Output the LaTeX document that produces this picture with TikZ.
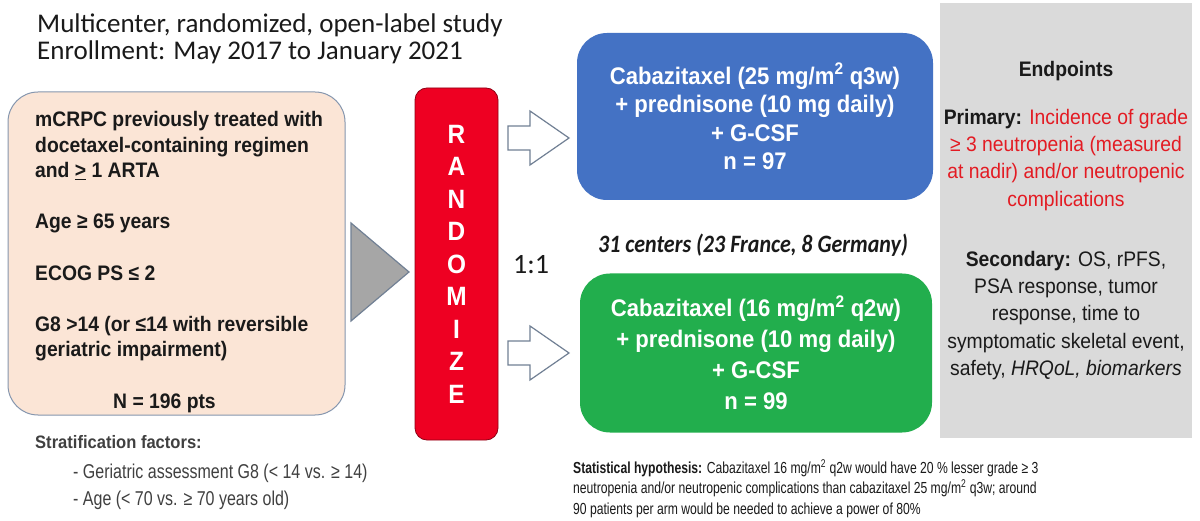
\documentclass[tikz,border=0pt]{standalone}
\usepackage{fontspec}
\setmainfont{Liberation Sans}
\newfontfamily\arialS[FakeStretch=0.92]{Liberation Sans}
\newfontfamily\arialN[FakeStretch=0.8]{Liberation Sans}
\newfontfamily\arialNN[FakeStretch=0.76]{Liberation Sans}
\newfontfamily\calib{Carlito}
\newfontfamily\calibN[FakeStretch=0.88]{Carlito}
\usetikzlibrary{positioning}

\definecolor{pesca}{HTML}{FBE5D6}
\definecolor{bordo}{HTML}{8596AE}
\definecolor{rosso}{HTML}{EE0022}
\definecolor{blu}{HTML}{4472C4}
\definecolor{verde}{HTML}{22AE4D}
\definecolor{grigio}{HTML}{DADADA}
\definecolor{testorosso}{HTML}{E31B23}
\definecolor{nero}{HTML}{1A1A1A}
\definecolor{grigioscuro}{HTML}{404040}

\begin{document}
\begin{tikzpicture}[x=1pt, y=-1pt,
			criteri/.style={rounded corners=30pt, fill=pesca, draw=bordo,
				line width=1pt, minimum width=337pt, minimum height=323pt},
			braccio/.style={rounded corners=30pt, text=white, align=center,
				inner sep=0pt},
			random/.style={rounded corners=12pt, fill=rosso, draw=rosso!60!black,
				line width=0.8pt, minimum width=83pt, minimum height=352pt,
				text=white, align=center, inner sep=0pt,
				font=\arialS\bfseries\fontsize{26.5}{32.5}\selectfont},
			freccia/.style={fill=white, draw=bordo!85!black, line width=1.2pt,
				line join=miter},
			triangolo/.style={fill=black!35, draw=bordo!85!black, line width=1.2pt},
			pannello/.style={fill=grigio, minimum width=252pt, minimum height=435pt,
				align=center, inner sep=0pt, text=nero,
				font=\arialS\fontsize{21}{27.3}\selectfont},
			testo/.style={inner sep=0pt, text=nero}]

			\def\W{1200}
			\def\H{521}

			%% --- sfondo e cornice ---
			\fill[white] (0,0) rectangle (\W,\H);
			\useasboundingbox (0,0) rectangle (\W,\H);

			%% --- titolo ---
			\node[testo, anchor=north west, align=left,
				font=\calib\fontsize{27}{27}\selectfont] (titolo) at (37,14)
				{Multicenter, randomized, open-label study\\
				 Enrollment: May 2017 to January 2021};

			%% --- criteri di inclusione ---
			\node[criteri] (incl) at (176.5,253.5) {};
			\node[testo, anchor=north west, align=left,
				font=\arialS\bfseries\fontsize{21}{25.6}\selectfont] (incltesto) at (35,111)
				{mCRPC previously treated with\\
				 docetaxel-containing regimen\\
				 and \underline{>} 1 ARTA\\[25.6pt]
				 Age ≥ 65 years\\[25.6pt]
				 ECOG PS ≤ 2\\[25.6pt]
				 G8 >14 (or ≤14 with reversible\\
				 geriatric impairment)\\[25.6pt]
				 \hspace*{78pt}N = 196 pts};

			%% --- randomizzazione ---
			\node[random] (rand) at (456.5,264) {R\\A\\N\\D\\O\\M\\I\\Z\\E};
			\draw[triangolo] (351,223) -- (351,321) -- (409,272) -- cycle;
			\node[testo, font=\calib\fontsize{28}{30}\selectfont] (rapporto) at (531,265) {1:1};

			%% --- bracci ---
			\node[braccio, fill=blu, minimum width=356pt, minimum height=167pt,
				font=\arialS\bfseries\fontsize{24}{28.5}\selectfont] (armA) at (755,116.5)
				{Cabazitaxel (25 mg/m\textsuperscript{2} q3w)\\
				 + prednisone (10 mg daily)\\
				 + G-CSF\\
				 n = 97};
			\node[braccio, fill=verde, minimum width=352pt, minimum height=159pt,
				font=\arialS\bfseries\fontsize{24}{31}\selectfont] (armB) at (756,353)
				{Cabazitaxel (16 mg/m\textsuperscript{2} q2w)\\
				 + prednisone (10 mg daily)\\
				 + G-CSF\\
				 n = 99};
			\node[testo, font=\calibN\bfseries\itshape\fontsize{25}{27}\selectfont] (centri)
				at (753,245) {31 centers (23 France, 8 Germany)};

			%% --- frecce verso i bracci ---
			\foreach \yc in {138,353}
				\draw[freccia, shift={(0,\yc)}] (508,-12) -- (530,-12) -- (530,-27)
					-- (569,0) -- (530,27) -- (530,12) -- (508,12) -- cycle;

			%% --- endpoints ---
			\node[pannello] (endp) at (1066,220.5)
				{\textbf{Endpoints}\\[20.7pt]
				 \textbf{Primary:} \textcolor{testorosso}{Incidence of grade}\\
				 \textcolor{testorosso}{≥ 3 neutropenia (measured}\\
				 \textcolor{testorosso}{at nadir) and/or neutropenic}\\
				 \textcolor{testorosso}{complications}\\[32.7pt]
				 \textbf{Secondary:} OS, rPFS,\\
				 PSA response, tumor\\
				 response, time to\\
				 symptomatic skeletal event,\\
				 safety, \textit{HRQoL, biomarkers}};

			%% --- fattori di stratificazione ---
			\node[testo, anchor=west, text=grigioscuro,
				font=\arialS\bfseries\fontsize{18}{20}\selectfont] (strat) at (35,442)
				{Stratification factors:};
			\node[testo, anchor=west, text=grigioscuro,
				font=\arialN\fontsize{20}{22}\selectfont] (stratA) at (73,473)
				{- Geriatric assessment G8 (< 14 vs. ≥ 14)};
			\node[testo, anchor=west, text=grigioscuro,
				font=\arialN\fontsize{20}{22}\selectfont] (stratB) at (73,500)
				{- Age (< 70 vs. ≥ 70 years old)};

			%% --- ipotesi statistica ---
			\node[testo, anchor=north west, align=left,
				font=\arialNN\fontsize{16}{20.5}\selectfont] (ipotesi) at (573,459)
				{\textbf{Statistical hypothesis:} Cabazitaxel 16 mg/m\textsuperscript{2} q2w would have 20 \% lesser grade ≥ 3\\
				 neutropenia and/or neutropenic complications than cabazitaxel 25 mg/m\textsuperscript{2} q3w; around\\
				 90 patients per arm would be needed to achieve a power of 80\%};

		\end{tikzpicture}
\end{document}
